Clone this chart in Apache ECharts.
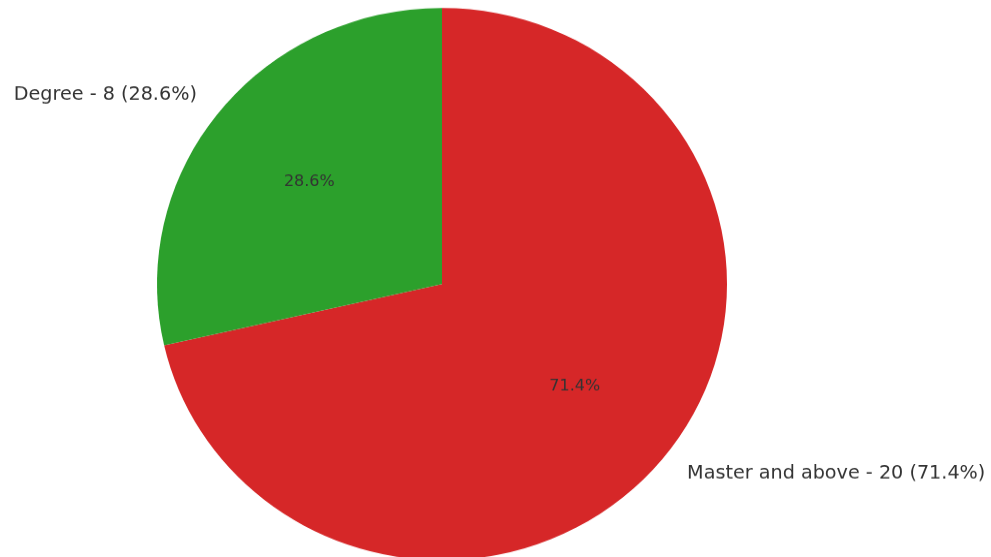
<!DOCTYPE html>
<html>
<head>
<meta charset="utf-8">
<title>Education level</title>
<script src="https://cdn.jsdelivr.net/npm/echarts@6/dist/echarts.min.js"></script>
<style>
  html, body { margin: 0; padding: 0; background: #ffffff; overflow: hidden; }
  #wrap { width: 991px; height: 557px; overflow: hidden; }
  /* the pie is drawn slightly wider than tall */
  #chart { width: 991px; height: 575px; transform: scaleY(0.9687); transform-origin: 0 0; }
</style>
</head>
<body>
<div id="wrap"><div id="chart"></div></div>
<script>
  const categories = ['Master and above', 'Degree'];
  const counts = [20, 8];
  const colors = ['#d62728', '#2ca02c'];

  const R = 285;
  const center = [442, 293.2];
  const total = counts.reduce((a, b) => a + b, 0);
  const pct = v => (v / total * 100).toFixed(1);

  const sliceData = categories.map((name, i) => ({
    name: name,
    value: counts[i],
    itemStyle: { color: colors[i] }
  }));

  const chart = echarts.init(document.getElementById('chart'), null, { renderer: 'canvas' });
  chart.setOption({
    animation: false,
    backgroundColor: '#ffffff',
    series: [
      {
        // wedges with name labels just outside the rim
        type: 'pie',
        center: center,
        radius: [0, R],
        startAngle: 90,
        clockwise: true,
        avoidLabelOverlap: false,
        silent: true,
        data: sliceData,
        label: {
          show: true,
          position: 'outside',
          formatter: p => p.name + ' - ' + p.value + ' (' + pct(p.value) + '%)',
          fontFamily: 'DejaVu Sans',
          fontSize: 19.2,
          color: '#333333',
          distanceToLabelLine: 0
        },
        labelLine: { show: false, length: R * 0.1, length2: 0 },
        emphasis: { disabled: true }
      },
      {
        // transparent ring carrying the percentage labels near 0.6 R
        type: 'pie',
        center: center,
        radius: [R * 0.17, R],
        startAngle: 90,
        clockwise: true,
        avoidLabelOverlap: false,
        silent: true,
        data: categories.map((name, i) => ({
          name: name,
          value: counts[i],
          itemStyle: { color: 'rgba(0,0,0,0)', borderWidth: 0 }
        })),
        label: {
          show: true,
          position: 'inside',
          formatter: p => pct(p.value) + '%',
          fontFamily: 'DejaVu Sans',
          fontSize: 16,
          color: '#333333'
        },
        labelLine: { show: false },
        emphasis: { disabled: true }
      }
    ]
  });
</script>
</body>
</html>
